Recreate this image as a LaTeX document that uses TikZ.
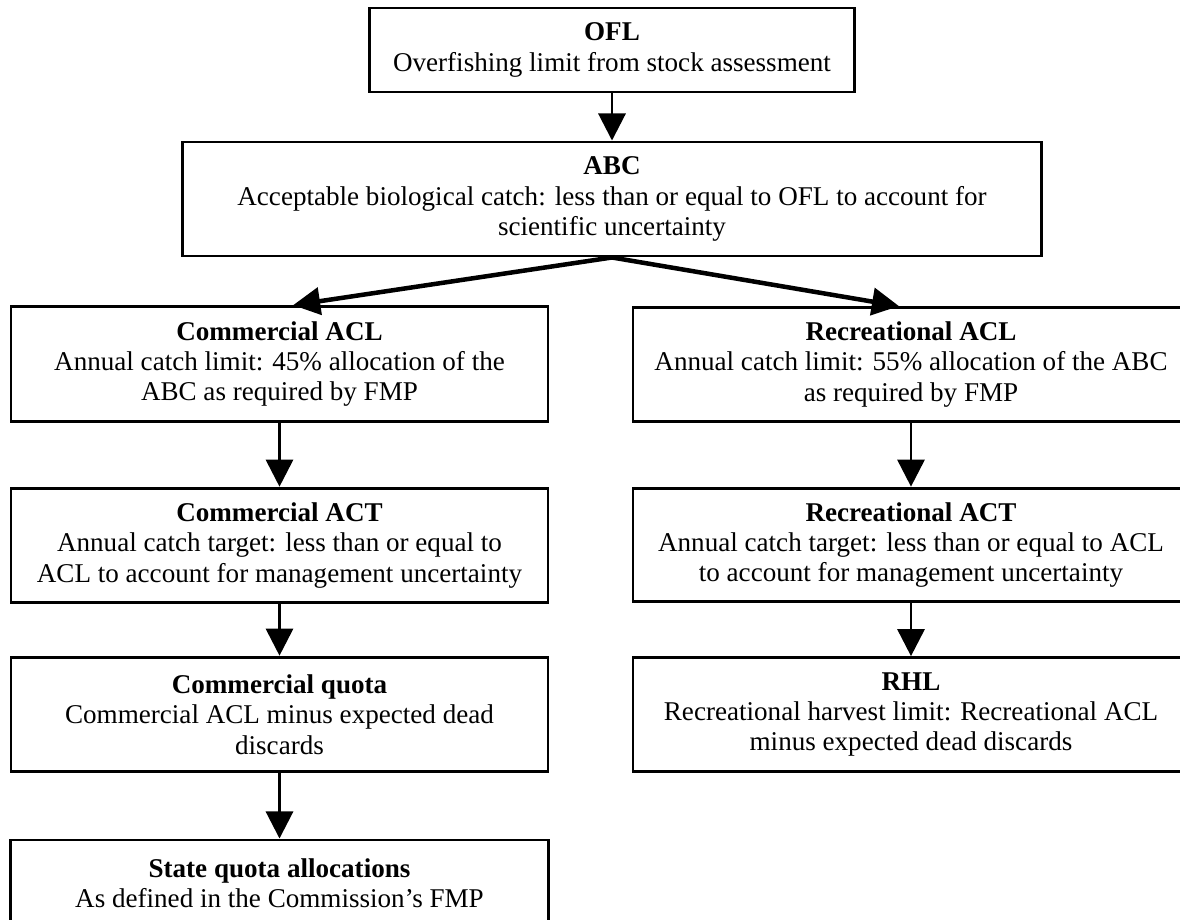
\documentclass[tikz,border=0pt]{standalone}
\usepackage{fontspec}
\setmainfont{Liberation Serif}
\usepackage{tikz}
\usetikzlibrary{arrows.meta}

\begin{document}
\begin{tikzpicture}[x=0.443pt, y=-0.443pt,
				   every node/.style={draw=black, line width=1.3pt, align=center, inner sep=0pt, font=\fontsize{12}{13.5}\selectfont},
				   leftbox/.style={minimum width=237.9pt, minimum height=50.8pt},
				   rightbox/.style={minimum width=246.3pt, minimum height=50.4pt},
				   arr/.style={-{Triangle[length=12pt, width=12pt]}, line width=1.3pt}]
\useasboundingbox (0,0) rectangle (1180,920);
\clip (0,0) rectangle (1180,920);
\node[minimum width=214.9pt, minimum height=37.2pt] (OFL) at (612,50) {\textbf{OFL}\\Overfishing limit from stock assessment};
\node[minimum width=380.5pt, minimum height=50.5pt] (ABC) at (612,199) {\textbf{ABC}\\Acceptable biological catch: less than or equal to OFL to account for\\scientific uncertainty};
\node[leftbox] (comACL) at (279.5,364) {\textbf{Commercial ACL}\\Annual catch limit: 45\% allocation of the\\ABC as required by FMP};
\node[rightbox] (recACL) at (911,364.5) {\textbf{Recreational ACL}\\Annual catch limit: 55\% allocation of the ABC\\as required by FMP};
\node[leftbox] (comACT) at (279.5,545.5) {\textbf{Commercial ACT}\\Annual catch target: less than or equal to\\ACL to account for management uncertainty};
\node[rightbox] (recACT) at (911,545) {\textbf{Recreational ACT}\\Annual catch target: less than or equal to ACL\\to account for management uncertainty};
\node[leftbox] (comQuota) at (279.5,714.5) {\textbf{Commercial quota}\\Commercial ACL minus expected dead\\discards};
\node[rightbox] (RHL) at (911,714.5) {\textbf{RHL}\\Recreational harvest limit: Recreational ACL\\minus expected dead discards};
\node[minimum width=238.3pt, minimum height=38.1pt] (state) at (279.5,883) {\textbf{State quota allocations}\\As defined in the Commission’s FMP};
\draw[arr] (OFL.south) -- (ABC.north);
\draw[arr, line width=2pt] (ABC.south) -- ([xshift=6pt]comACL.north);
\draw[arr, line width=2pt] (ABC.south) -- ([xshift=-5.3pt]recACL.north);
\draw[arr] (comACL) -- (comACT);
\draw[arr] (comACT) -- (comQuota);
\draw[arr] (comQuota) -- (state);
\draw[arr] (recACL) -- (recACT);
\draw[arr] (recACT) -- (RHL);
\end{tikzpicture}
\end{document}
